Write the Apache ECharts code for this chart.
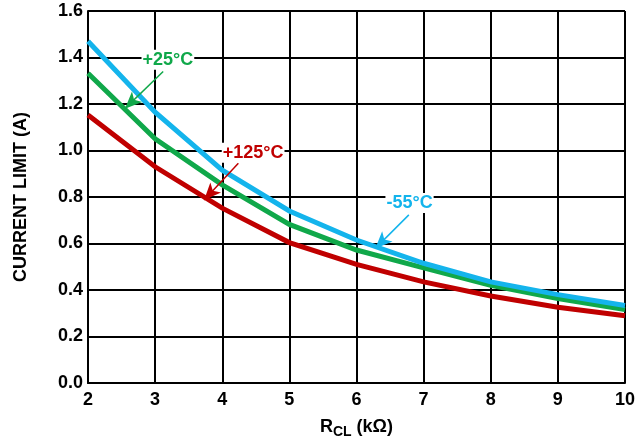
<!DOCTYPE html>
<html><head><meta charset="utf-8">
<script src="https://cdn.jsdelivr.net/npm/echarts@6/dist/echarts.min.js"></script>
<style>html,body{margin:0;padding:0;background:#fff}#c{width:644px;height:444px}</style>
</head><body><div id="c"></div>
<script>
var rcl = [2, 3, 4, 5, 6, 7, 8, 9, 10];
var minus55 = [1.47, 1.165, 0.915, 0.74, 0.615, 0.515, 0.435, 0.38, 0.333];
var plus25 = [1.332, 1.05, 0.852, 0.682, 0.572, 0.495, 0.42, 0.363, 0.316];
var plus125 = [1.153, 0.93, 0.752, 0.604, 0.51, 0.435, 0.374, 0.326, 0.289];
var yTicks = [0, 0.2, 0.4, 0.6, 0.8, 1.0, 1.2, 1.4, 1.6];
var xTicks = [2, 3, 4, 5, 6, 7, 8, 9, 10];

var FONT = '"Liberation Sans", Arial, sans-serif';
function pairs(v){ return rcl.map(function(x,i){ return [x, v[i]]; }); }

function annot(text, color, lx, ly, ax0, ay0, ax1, ay1){
  return {
    markPoint: {
      symbol: 'rect', symbolSize: 0, silent: true, animation: false,
      data: [{ coord: [lx, ly], value: text }],
      label: { show: true, position: 'inside', formatter: text, color: color,
        fontFamily: FONT, fontWeight: 'bold', fontSize: 18,
        backgroundColor: '#fff', padding: [1, 1, 1, 1] }
    },
    markLine: {
      silent: true, animation: false, symbol: ['none', 'arrow'], symbolSize: [11, 17],
      lineStyle: { color: color, width: 1.5, type: 'solid' },
      label: { show: false },
      data: [[{ coord: [ax0, ay0] }, { coord: [ax1, ay1] }]]
    }
  };
}

var chart = echarts.init(document.getElementById('c'));
function mkSeries(name, vals, color, a){
  var s = { name: name, type: 'line', data: pairs(vals), showSymbol: false, symbol: 'none',
    lineStyle: { color: color, width: 5, cap: 'butt', join: 'miter' }, itemStyle: { color: color },
    animation: false, z: 3 };
  s.markPoint = a.markPoint; s.markLine = a.markLine; return s;
}
chart.setOption({
  backgroundColor: '#fff',
  animation: false,
  grid: { left: 88, right: 19, top: 11, bottom: 57 },
  xAxis: {
    type: 'value', min: 2, max: 10, interval: 1,
    axisLine: { show: true, lineStyle: { color: '#000', width: 2 } },
    axisTick: { show: false },
    splitLine: { show: true, lineStyle: { color: '#000', width: 2 } },
    axisLabel: { color: '#000', fontFamily: FONT, fontWeight: 'bold', fontSize: 18, margin: 8,
      formatter: function(v){ return xTicks.indexOf(v) >= 0 ? String(v) : ''; } },
    name: '{a|R}{b|CL}{a| (kΩ)}', nameLocation: 'middle', nameGap: 32,
    nameTextStyle: { color: '#000', fontFamily: FONT, fontWeight: 'bold',
      rich: { a: { fontFamily: FONT, fontWeight: 'bold', fontSize: 18, color: '#000' },
              b: { fontFamily: FONT, fontWeight: 'bold', fontSize: 14, color: '#000', padding: [10, 0, 0, 0] } } }
  },
  yAxis: {
    type: 'value', min: 0, max: 1.6, interval: 0.2,
    axisLine: { show: true, lineStyle: { color: '#000', width: 2 } },
    axisTick: { show: false },
    splitLine: { show: true, lineStyle: { color: '#000', width: 2 } },
    axisLabel: { color: '#000', fontFamily: FONT, fontWeight: 'bold', fontSize: 18, margin: 5,
      formatter: function(v){ return v.toFixed(1); } },
    name: 'CURRENT LIMIT (A)', nameLocation: 'middle', nameGap: 58, nameRotate: 90,
    nameTextStyle: { color: '#000', fontFamily: FONT, fontWeight: 'bold', fontSize: 18 }
  },
  series: [
    mkSeries('+125°C', plus125, '#c00000', annot('+125°C', '#c00000', 4.46, 0.99, 4.24, 0.945, 3.73, 0.787)),
    mkSeries('+25°C', plus25, '#10a84a', annot('+25°C', '#10a84a', 3.19, 1.39, 3.12, 1.34, 2.55, 1.18)),
    mkSeries('-55°C', minus55, '#14b4ec', annot('-55°C', '#14b4ec', 6.79, 0.774, 6.78, 0.723, 6.28, 0.579))
  ]
});
</script></body></html>
